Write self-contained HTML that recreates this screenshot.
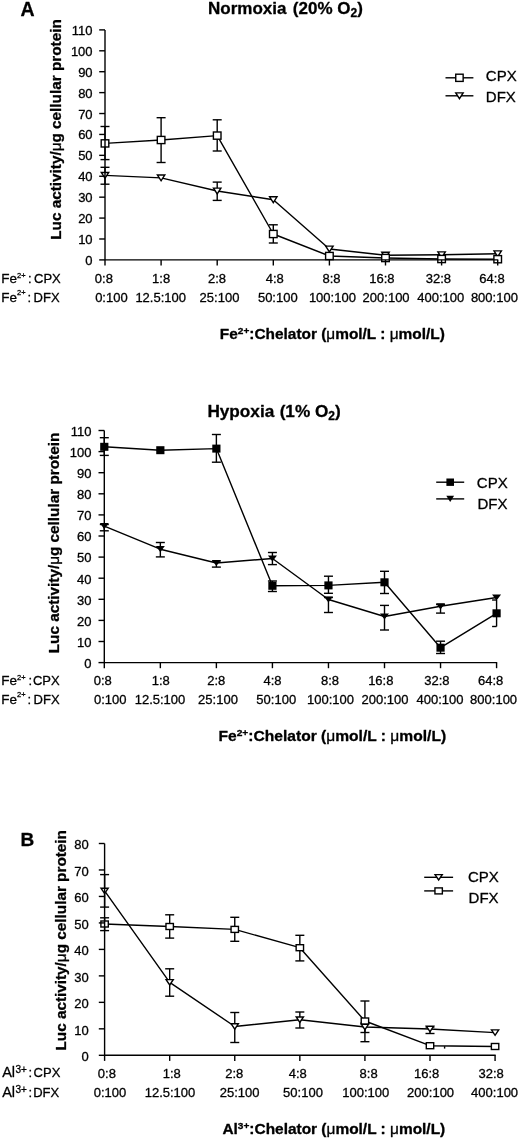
<!DOCTYPE html>
<html><head><meta charset="utf-8"><title>Figure</title>
<style>html,body{margin:0;padding:0;background:#fff;overflow:hidden;}svg{display:block;}</style>
</head><body>
<svg width="520" height="1139" viewBox="0 0 520 1139">
<rect width="520" height="1139" fill="#fff"/>
<g stroke="#000" stroke-linecap="butt" fill="none">
<line x1="105.00" y1="126.50" x2="105.00" y2="159.60" stroke-width="1.4"/>
<line x1="100.50" y1="126.50" x2="109.50" y2="126.50" stroke-width="1.4"/>
<line x1="100.50" y1="159.60" x2="109.50" y2="159.60" stroke-width="1.4"/>
<line x1="161.10" y1="117.70" x2="161.10" y2="162.50" stroke-width="1.4"/>
<line x1="156.60" y1="117.70" x2="165.60" y2="117.70" stroke-width="1.4"/>
<line x1="156.60" y1="162.50" x2="165.60" y2="162.50" stroke-width="1.4"/>
<line x1="217.20" y1="119.80" x2="217.20" y2="151.00" stroke-width="1.4"/>
<line x1="212.70" y1="119.80" x2="221.70" y2="119.80" stroke-width="1.4"/>
<line x1="212.70" y1="151.00" x2="221.70" y2="151.00" stroke-width="1.4"/>
<line x1="273.30" y1="224.80" x2="273.30" y2="243.00" stroke-width="1.4"/>
<line x1="268.80" y1="224.80" x2="277.80" y2="224.80" stroke-width="1.4"/>
<line x1="268.80" y1="243.00" x2="277.80" y2="243.00" stroke-width="1.4"/>
<line x1="105.00" y1="167.30" x2="105.00" y2="184.20" stroke-width="1.4"/>
<line x1="100.50" y1="167.30" x2="109.50" y2="167.30" stroke-width="1.4"/>
<line x1="100.50" y1="184.20" x2="109.50" y2="184.20" stroke-width="1.4"/>
<line x1="217.20" y1="182.10" x2="217.20" y2="200.40" stroke-width="1.4"/>
<line x1="212.70" y1="182.10" x2="221.70" y2="182.10" stroke-width="1.4"/>
<line x1="212.70" y1="200.40" x2="221.70" y2="200.40" stroke-width="1.4"/>
<polyline points="105.00,143.40 161.10,140.00 217.20,135.60 273.30,234.00 329.40,256.00 385.50,258.00 441.60,259.00 497.70,259.20" fill="none" stroke-width="1.4" stroke-linejoin="round"/>
<polyline points="105.00,175.40 161.10,177.90 217.20,191.00 273.30,199.70 329.40,249.00 385.50,255.20 441.60,254.80 497.70,253.80" fill="none" stroke-width="1.4" stroke-linejoin="round"/>
<polygon points="101.30,172.50 108.70,172.50 105.00,178.30" fill="#fff" stroke-width="1.4" stroke-linejoin="miter"/>
<polygon points="157.40,175.00 164.80,175.00 161.10,180.80" fill="#fff" stroke-width="1.4" stroke-linejoin="miter"/>
<polygon points="213.50,188.10 220.90,188.10 217.20,193.90" fill="#fff" stroke-width="1.4" stroke-linejoin="miter"/>
<polygon points="269.60,196.80 277.00,196.80 273.30,202.60" fill="#fff" stroke-width="1.4" stroke-linejoin="miter"/>
<polygon points="325.70,246.10 333.10,246.10 329.40,251.90" fill="#fff" stroke-width="1.4" stroke-linejoin="miter"/>
<polygon points="381.80,252.30 389.20,252.30 385.50,258.10" fill="#fff" stroke-width="1.4" stroke-linejoin="miter"/>
<polygon points="437.90,251.90 445.30,251.90 441.60,257.70" fill="#fff" stroke-width="1.4" stroke-linejoin="miter"/>
<polygon points="494.00,250.90 501.40,250.90 497.70,256.70" fill="#fff" stroke-width="1.4" stroke-linejoin="miter"/>
<rect x="101.20" y="139.80" width="7.60" height="7.20" fill="#fff" stroke-width="1.4"/>
<rect x="157.30" y="136.40" width="7.60" height="7.20" fill="#fff" stroke-width="1.4"/>
<rect x="213.40" y="132.00" width="7.60" height="7.20" fill="#fff" stroke-width="1.4"/>
<rect x="269.50" y="230.40" width="7.60" height="7.20" fill="#fff" stroke-width="1.4"/>
<rect x="325.60" y="252.40" width="7.60" height="7.20" fill="#fff" stroke-width="1.4"/>
<rect x="381.70" y="254.40" width="7.60" height="7.20" fill="#fff" stroke-width="1.4"/>
<rect x="437.80" y="255.40" width="7.60" height="7.20" fill="#fff" stroke-width="1.4"/>
<rect x="493.90" y="255.60" width="7.60" height="7.20" fill="#fff" stroke-width="1.4"/>
<line x1="105.00" y1="29.89" x2="105.00" y2="265.50" stroke-width="1.4"/>
<line x1="99.20" y1="259.90" x2="105.00" y2="259.90" stroke-width="1.4"/>
<line x1="99.20" y1="238.99" x2="105.00" y2="238.99" stroke-width="1.4"/>
<line x1="99.20" y1="218.08" x2="105.00" y2="218.08" stroke-width="1.4"/>
<line x1="99.20" y1="197.17" x2="105.00" y2="197.17" stroke-width="1.4"/>
<line x1="99.20" y1="176.26" x2="105.00" y2="176.26" stroke-width="1.4"/>
<line x1="99.20" y1="155.35" x2="105.00" y2="155.35" stroke-width="1.4"/>
<line x1="99.20" y1="134.44" x2="105.00" y2="134.44" stroke-width="1.4"/>
<line x1="99.20" y1="113.53" x2="105.00" y2="113.53" stroke-width="1.4"/>
<line x1="99.20" y1="92.62" x2="105.00" y2="92.62" stroke-width="1.4"/>
<line x1="99.20" y1="71.71" x2="105.00" y2="71.71" stroke-width="1.4"/>
<line x1="99.20" y1="50.80" x2="105.00" y2="50.80" stroke-width="1.4"/>
<line x1="99.20" y1="29.89" x2="105.00" y2="29.89" stroke-width="1.4"/>
<line x1="105.00" y1="259.90" x2="498.30" y2="259.90" stroke-width="1.4"/>
<line x1="161.10" y1="259.90" x2="161.10" y2="265.50" stroke-width="1.4"/>
<line x1="217.20" y1="259.90" x2="217.20" y2="265.50" stroke-width="1.4"/>
<line x1="273.30" y1="259.90" x2="273.30" y2="265.50" stroke-width="1.4"/>
<line x1="329.40" y1="259.90" x2="329.40" y2="265.50" stroke-width="1.4"/>
<line x1="385.50" y1="259.90" x2="385.50" y2="265.50" stroke-width="1.4"/>
<line x1="441.60" y1="259.90" x2="441.60" y2="265.50" stroke-width="1.4"/>
<line x1="497.70" y1="259.90" x2="497.70" y2="265.50" stroke-width="1.4"/>
<line x1="104.30" y1="437.70" x2="104.30" y2="455.40" stroke-width="1.4"/>
<line x1="99.80" y1="437.70" x2="108.80" y2="437.70" stroke-width="1.4"/>
<line x1="99.80" y1="455.40" x2="108.80" y2="455.40" stroke-width="1.4"/>
<line x1="216.38" y1="434.50" x2="216.38" y2="462.20" stroke-width="1.4"/>
<line x1="211.88" y1="434.50" x2="220.88" y2="434.50" stroke-width="1.4"/>
<line x1="211.88" y1="462.20" x2="220.88" y2="462.20" stroke-width="1.4"/>
<line x1="272.42" y1="581.00" x2="272.42" y2="591.50" stroke-width="1.4"/>
<line x1="267.92" y1="581.00" x2="276.92" y2="581.00" stroke-width="1.4"/>
<line x1="267.92" y1="591.50" x2="276.92" y2="591.50" stroke-width="1.4"/>
<line x1="328.46" y1="576.20" x2="328.46" y2="593.30" stroke-width="1.4"/>
<line x1="323.96" y1="576.20" x2="332.96" y2="576.20" stroke-width="1.4"/>
<line x1="323.96" y1="593.30" x2="332.96" y2="593.30" stroke-width="1.4"/>
<line x1="384.50" y1="571.30" x2="384.50" y2="593.50" stroke-width="1.4"/>
<line x1="380.00" y1="571.30" x2="389.00" y2="571.30" stroke-width="1.4"/>
<line x1="380.00" y1="593.50" x2="389.00" y2="593.50" stroke-width="1.4"/>
<line x1="440.54" y1="641.20" x2="440.54" y2="653.50" stroke-width="1.4"/>
<line x1="436.04" y1="641.20" x2="445.04" y2="641.20" stroke-width="1.4"/>
<line x1="436.04" y1="653.50" x2="445.04" y2="653.50" stroke-width="1.4"/>
<line x1="496.58" y1="600.00" x2="496.58" y2="626.50" stroke-width="1.4"/>
<line x1="492.08" y1="600.00" x2="496.58" y2="600.00" stroke-width="1.4"/>
<line x1="492.08" y1="626.50" x2="496.58" y2="626.50" stroke-width="1.4"/>
<line x1="104.30" y1="524.50" x2="104.30" y2="530.80" stroke-width="1.4"/>
<line x1="99.80" y1="524.50" x2="108.80" y2="524.50" stroke-width="1.4"/>
<line x1="99.80" y1="530.80" x2="108.80" y2="530.80" stroke-width="1.4"/>
<line x1="160.34" y1="542.50" x2="160.34" y2="556.90" stroke-width="1.4"/>
<line x1="155.84" y1="542.50" x2="164.84" y2="542.50" stroke-width="1.4"/>
<line x1="155.84" y1="556.90" x2="164.84" y2="556.90" stroke-width="1.4"/>
<line x1="216.38" y1="561.00" x2="216.38" y2="567.10" stroke-width="1.4"/>
<line x1="211.88" y1="561.00" x2="220.88" y2="561.00" stroke-width="1.4"/>
<line x1="211.88" y1="567.10" x2="220.88" y2="567.10" stroke-width="1.4"/>
<line x1="272.42" y1="552.50" x2="272.42" y2="564.60" stroke-width="1.4"/>
<line x1="267.92" y1="552.50" x2="276.92" y2="552.50" stroke-width="1.4"/>
<line x1="267.92" y1="564.60" x2="276.92" y2="564.60" stroke-width="1.4"/>
<line x1="328.46" y1="597.50" x2="328.46" y2="612.50" stroke-width="1.4"/>
<line x1="323.96" y1="597.50" x2="332.96" y2="597.50" stroke-width="1.4"/>
<line x1="323.96" y1="612.50" x2="332.96" y2="612.50" stroke-width="1.4"/>
<line x1="384.50" y1="605.40" x2="384.50" y2="630.00" stroke-width="1.4"/>
<line x1="380.00" y1="605.40" x2="389.00" y2="605.40" stroke-width="1.4"/>
<line x1="380.00" y1="630.00" x2="389.00" y2="630.00" stroke-width="1.4"/>
<line x1="440.54" y1="604.50" x2="440.54" y2="613.10" stroke-width="1.4"/>
<line x1="436.04" y1="604.50" x2="445.04" y2="604.50" stroke-width="1.4"/>
<line x1="436.04" y1="613.10" x2="445.04" y2="613.10" stroke-width="1.4"/>
<polyline points="104.30,446.80 160.34,450.20 216.38,448.60 272.42,585.80 328.46,585.40 384.50,582.30 440.54,647.70 496.58,613.30" fill="none" stroke-width="1.4" stroke-linejoin="round"/>
<polyline points="104.30,526.20 160.34,549.20 216.38,563.00 272.42,558.50 328.46,599.50 384.50,616.50 440.54,606.30 496.58,597.50" fill="none" stroke-width="1.4" stroke-linejoin="round"/>
<rect x="100.20" y="442.80" width="8.20" height="8.00" fill="#000" stroke="none"/>
<rect x="156.24" y="446.20" width="8.20" height="8.00" fill="#000" stroke="none"/>
<rect x="212.28" y="444.60" width="8.20" height="8.00" fill="#000" stroke="none"/>
<rect x="268.32" y="581.80" width="8.20" height="8.00" fill="#000" stroke="none"/>
<rect x="324.36" y="581.40" width="8.20" height="8.00" fill="#000" stroke="none"/>
<rect x="380.40" y="578.30" width="8.20" height="8.00" fill="#000" stroke="none"/>
<rect x="436.44" y="643.70" width="8.20" height="8.00" fill="#000" stroke="none"/>
<rect x="492.48" y="609.30" width="8.20" height="8.00" fill="#000" stroke="none"/>
<polygon points="99.80,523.10 108.80,523.10 104.30,529.30" fill="#000" stroke="none"/>
<polygon points="155.84,546.10 164.84,546.10 160.34,552.30" fill="#000" stroke="none"/>
<polygon points="211.88,559.90 220.88,559.90 216.38,566.10" fill="#000" stroke="none"/>
<polygon points="267.92,555.40 276.92,555.40 272.42,561.60" fill="#000" stroke="none"/>
<polygon points="323.96,596.40 332.96,596.40 328.46,602.60" fill="#000" stroke="none"/>
<polygon points="380.00,613.40 389.00,613.40 384.50,619.60" fill="#000" stroke="none"/>
<polygon points="436.04,603.20 445.04,603.20 440.54,609.40" fill="#000" stroke="none"/>
<polygon points="492.08,594.40 501.08,594.40 496.58,600.60" fill="#000" stroke="none"/>
<line x1="104.30" y1="430.50" x2="104.30" y2="668.20" stroke-width="1.4"/>
<line x1="98.50" y1="662.60" x2="104.30" y2="662.60" stroke-width="1.4"/>
<line x1="98.50" y1="641.50" x2="104.30" y2="641.50" stroke-width="1.4"/>
<line x1="98.50" y1="620.40" x2="104.30" y2="620.40" stroke-width="1.4"/>
<line x1="98.50" y1="599.30" x2="104.30" y2="599.30" stroke-width="1.4"/>
<line x1="98.50" y1="578.20" x2="104.30" y2="578.20" stroke-width="1.4"/>
<line x1="98.50" y1="557.10" x2="104.30" y2="557.10" stroke-width="1.4"/>
<line x1="98.50" y1="536.00" x2="104.30" y2="536.00" stroke-width="1.4"/>
<line x1="98.50" y1="514.90" x2="104.30" y2="514.90" stroke-width="1.4"/>
<line x1="98.50" y1="493.80" x2="104.30" y2="493.80" stroke-width="1.4"/>
<line x1="98.50" y1="472.70" x2="104.30" y2="472.70" stroke-width="1.4"/>
<line x1="98.50" y1="451.60" x2="104.30" y2="451.60" stroke-width="1.4"/>
<line x1="98.50" y1="430.50" x2="104.30" y2="430.50" stroke-width="1.4"/>
<line x1="104.30" y1="662.60" x2="497.18" y2="662.60" stroke-width="1.4"/>
<line x1="160.34" y1="662.60" x2="160.34" y2="668.20" stroke-width="1.4"/>
<line x1="216.38" y1="662.60" x2="216.38" y2="668.20" stroke-width="1.4"/>
<line x1="272.42" y1="662.60" x2="272.42" y2="668.20" stroke-width="1.4"/>
<line x1="328.46" y1="662.60" x2="328.46" y2="668.20" stroke-width="1.4"/>
<line x1="384.50" y1="662.60" x2="384.50" y2="668.20" stroke-width="1.4"/>
<line x1="440.54" y1="662.60" x2="440.54" y2="668.20" stroke-width="1.4"/>
<line x1="496.58" y1="662.60" x2="496.58" y2="668.20" stroke-width="1.4"/>
<line x1="104.60" y1="874.60" x2="104.60" y2="907.10" stroke-width="1.4"/>
<line x1="100.10" y1="874.60" x2="109.10" y2="874.60" stroke-width="1.4"/>
<line x1="100.10" y1="907.10" x2="109.10" y2="907.10" stroke-width="1.4"/>
<line x1="169.68" y1="968.80" x2="169.68" y2="996.20" stroke-width="1.4"/>
<line x1="165.18" y1="968.80" x2="174.18" y2="968.80" stroke-width="1.4"/>
<line x1="165.18" y1="996.20" x2="174.18" y2="996.20" stroke-width="1.4"/>
<line x1="234.76" y1="1012.50" x2="234.76" y2="1042.50" stroke-width="1.4"/>
<line x1="230.26" y1="1012.50" x2="239.26" y2="1012.50" stroke-width="1.4"/>
<line x1="230.26" y1="1042.50" x2="239.26" y2="1042.50" stroke-width="1.4"/>
<line x1="299.84" y1="1012.00" x2="299.84" y2="1028.00" stroke-width="1.4"/>
<line x1="295.34" y1="1012.00" x2="304.34" y2="1012.00" stroke-width="1.4"/>
<line x1="295.34" y1="1028.00" x2="304.34" y2="1028.00" stroke-width="1.4"/>
<line x1="364.92" y1="1023.00" x2="364.92" y2="1032.50" stroke-width="1.4"/>
<line x1="360.42" y1="1023.00" x2="369.42" y2="1023.00" stroke-width="1.4"/>
<line x1="360.42" y1="1032.50" x2="369.42" y2="1032.50" stroke-width="1.4"/>
<line x1="430.00" y1="1027.00" x2="430.00" y2="1033.50" stroke-width="1.4"/>
<line x1="425.50" y1="1027.00" x2="434.50" y2="1027.00" stroke-width="1.4"/>
<line x1="425.50" y1="1033.50" x2="434.50" y2="1033.50" stroke-width="1.4"/>
<line x1="104.60" y1="917.80" x2="104.60" y2="930.60" stroke-width="1.4"/>
<line x1="100.10" y1="917.80" x2="109.10" y2="917.80" stroke-width="1.4"/>
<line x1="100.10" y1="930.60" x2="109.10" y2="930.60" stroke-width="1.4"/>
<line x1="169.68" y1="914.80" x2="169.68" y2="938.10" stroke-width="1.4"/>
<line x1="165.18" y1="914.80" x2="174.18" y2="914.80" stroke-width="1.4"/>
<line x1="165.18" y1="938.10" x2="174.18" y2="938.10" stroke-width="1.4"/>
<line x1="234.76" y1="917.30" x2="234.76" y2="941.30" stroke-width="1.4"/>
<line x1="230.26" y1="917.30" x2="239.26" y2="917.30" stroke-width="1.4"/>
<line x1="230.26" y1="941.30" x2="239.26" y2="941.30" stroke-width="1.4"/>
<line x1="299.84" y1="935.30" x2="299.84" y2="960.90" stroke-width="1.4"/>
<line x1="295.34" y1="935.30" x2="304.34" y2="935.30" stroke-width="1.4"/>
<line x1="295.34" y1="960.90" x2="304.34" y2="960.90" stroke-width="1.4"/>
<line x1="364.92" y1="1001.00" x2="364.92" y2="1041.70" stroke-width="1.4"/>
<line x1="360.42" y1="1001.00" x2="369.42" y2="1001.00" stroke-width="1.4"/>
<line x1="360.42" y1="1041.70" x2="369.42" y2="1041.70" stroke-width="1.4"/>
<polyline points="104.60,890.90 169.68,982.30 234.76,1026.50 299.84,1019.70 364.92,1027.00 430.00,1029.00 495.08,1032.60" fill="none" stroke-width="1.4" stroke-linejoin="round"/>
<polyline points="104.60,924.00 169.68,926.50 234.76,929.40 299.84,947.70 364.92,1021.00 430.00,1045.70 495.08,1046.50" fill="none" stroke-width="1.4" stroke-linejoin="round"/>
<polygon points="101.00,888.20 108.20,888.20 104.60,893.60" fill="#fff" stroke-width="1.4" stroke-linejoin="miter"/>
<polygon points="166.08,979.60 173.28,979.60 169.68,985.00" fill="#fff" stroke-width="1.4" stroke-linejoin="miter"/>
<polygon points="231.16,1023.80 238.36,1023.80 234.76,1029.20" fill="#fff" stroke-width="1.4" stroke-linejoin="miter"/>
<polygon points="296.24,1017.00 303.44,1017.00 299.84,1022.40" fill="#fff" stroke-width="1.4" stroke-linejoin="miter"/>
<polygon points="361.32,1024.30 368.52,1024.30 364.92,1029.70" fill="#fff" stroke-width="1.4" stroke-linejoin="miter"/>
<polygon points="426.40,1026.30 433.60,1026.30 430.00,1031.70" fill="#fff" stroke-width="1.4" stroke-linejoin="miter"/>
<polygon points="491.48,1029.90 498.68,1029.90 495.08,1035.30" fill="#fff" stroke-width="1.4" stroke-linejoin="miter"/>
<rect x="100.90" y="921.00" width="7.40" height="6.00" fill="#fff" stroke-width="1.4"/>
<rect x="165.98" y="923.50" width="7.40" height="6.00" fill="#fff" stroke-width="1.4"/>
<rect x="231.06" y="926.40" width="7.40" height="6.00" fill="#fff" stroke-width="1.4"/>
<rect x="296.14" y="944.70" width="7.40" height="6.00" fill="#fff" stroke-width="1.4"/>
<rect x="361.22" y="1018.00" width="7.40" height="6.00" fill="#fff" stroke-width="1.4"/>
<rect x="426.30" y="1042.70" width="7.40" height="6.00" fill="#fff" stroke-width="1.4"/>
<rect x="491.38" y="1043.50" width="7.40" height="6.00" fill="#fff" stroke-width="1.4"/>
<line x1="104.60" y1="843.50" x2="104.60" y2="1060.90" stroke-width="1.4"/>
<line x1="98.80" y1="1055.30" x2="104.60" y2="1055.30" stroke-width="1.4"/>
<line x1="98.80" y1="1028.83" x2="104.60" y2="1028.83" stroke-width="1.4"/>
<line x1="98.80" y1="1002.35" x2="104.60" y2="1002.35" stroke-width="1.4"/>
<line x1="98.80" y1="975.88" x2="104.60" y2="975.88" stroke-width="1.4"/>
<line x1="98.80" y1="949.40" x2="104.60" y2="949.40" stroke-width="1.4"/>
<line x1="98.80" y1="922.92" x2="104.60" y2="922.92" stroke-width="1.4"/>
<line x1="98.80" y1="896.45" x2="104.60" y2="896.45" stroke-width="1.4"/>
<line x1="98.80" y1="869.97" x2="104.60" y2="869.97" stroke-width="1.4"/>
<line x1="98.80" y1="843.50" x2="104.60" y2="843.50" stroke-width="1.4"/>
<line x1="104.60" y1="1055.30" x2="495.68" y2="1055.30" stroke-width="1.4"/>
<line x1="169.68" y1="1055.30" x2="169.68" y2="1060.90" stroke-width="1.4"/>
<line x1="234.76" y1="1055.30" x2="234.76" y2="1060.90" stroke-width="1.4"/>
<line x1="299.84" y1="1055.30" x2="299.84" y2="1060.90" stroke-width="1.4"/>
<line x1="364.92" y1="1055.30" x2="364.92" y2="1060.90" stroke-width="1.4"/>
<line x1="430.00" y1="1055.30" x2="430.00" y2="1060.90" stroke-width="1.4"/>
<line x1="495.08" y1="1055.30" x2="495.08" y2="1060.90" stroke-width="1.4"/>
<line x1="444.60" y1="1046.20" x2="444.60" y2="1048.60" stroke-width="1.4"/>
<line x1="445.50" y1="77.80" x2="473.40" y2="77.80" stroke-width="1.4"/>
<rect x="455.75" y="74.20" width="7.40" height="7.20" fill="#fff" stroke-width="1.4"/>
<line x1="445.50" y1="95.80" x2="473.40" y2="95.80" stroke-width="1.4"/>
<polygon points="455.75,92.90 463.15,92.90 459.45,98.70" fill="#fff" stroke-width="1.4" stroke-linejoin="miter"/>
<line x1="436.20" y1="482.20" x2="464.20" y2="482.20" stroke-width="1.4"/>
<rect x="446.40" y="478.50" width="7.60" height="7.40" fill="#000" stroke="none"/>
<line x1="436.20" y1="498.90" x2="464.20" y2="498.90" stroke-width="1.4"/>
<polygon points="446.30,495.80 454.10,495.80 450.20,502.00" fill="#000" stroke="none"/>
<line x1="424.20" y1="877.30" x2="453.10" y2="877.30" stroke-width="1.4"/>
<polygon points="435.05,874.60 442.25,874.60 438.65,880.00" fill="#fff" stroke-width="1.4" stroke-linejoin="miter"/>
<line x1="424.20" y1="890.90" x2="453.10" y2="890.90" stroke-width="1.4"/>
<rect x="434.95" y="887.90" width="7.40" height="6.00" fill="#fff" stroke-width="1.4"/>
</g>
<g font-family="'Liberation Sans', Arial, Helvetica, sans-serif" fill="#000" stroke="#000" stroke-width="0.3" stroke-linejoin="round">
<text x="92.60" y="264.90" font-size="13" font-weight="normal" text-anchor="end" >0</text>
<text x="92.60" y="243.99" font-size="13" font-weight="normal" text-anchor="end" >10</text>
<text x="92.60" y="223.08" font-size="13" font-weight="normal" text-anchor="end" >20</text>
<text x="92.60" y="202.17" font-size="13" font-weight="normal" text-anchor="end" >30</text>
<text x="92.60" y="181.26" font-size="13" font-weight="normal" text-anchor="end" >40</text>
<text x="92.60" y="160.35" font-size="13" font-weight="normal" text-anchor="end" >50</text>
<text x="92.60" y="139.44" font-size="13" font-weight="normal" text-anchor="end" >60</text>
<text x="92.60" y="118.53" font-size="13" font-weight="normal" text-anchor="end" >70</text>
<text x="92.60" y="97.62" font-size="13" font-weight="normal" text-anchor="end" >80</text>
<text x="92.60" y="76.71" font-size="13" font-weight="normal" text-anchor="end" >90</text>
<text x="92.60" y="55.80" font-size="13" font-weight="normal" text-anchor="end" >100</text>
<text x="92.60" y="34.89" font-size="13" font-weight="normal" text-anchor="end" >110</text>
<text x="91.40" y="667.90" font-size="13" font-weight="normal" text-anchor="end" >0</text>
<text x="91.40" y="646.80" font-size="13" font-weight="normal" text-anchor="end" >10</text>
<text x="91.40" y="625.70" font-size="13" font-weight="normal" text-anchor="end" >20</text>
<text x="91.40" y="604.60" font-size="13" font-weight="normal" text-anchor="end" >30</text>
<text x="91.40" y="583.50" font-size="13" font-weight="normal" text-anchor="end" >40</text>
<text x="91.40" y="562.40" font-size="13" font-weight="normal" text-anchor="end" >50</text>
<text x="91.40" y="541.30" font-size="13" font-weight="normal" text-anchor="end" >60</text>
<text x="91.40" y="520.20" font-size="13" font-weight="normal" text-anchor="end" >70</text>
<text x="91.40" y="499.10" font-size="13" font-weight="normal" text-anchor="end" >80</text>
<text x="91.40" y="478.00" font-size="13" font-weight="normal" text-anchor="end" >90</text>
<text x="91.40" y="456.90" font-size="13" font-weight="normal" text-anchor="end" >100</text>
<text x="91.40" y="435.80" font-size="13" font-weight="normal" text-anchor="end" >110</text>
<text x="88.80" y="1061.00" font-size="13" font-weight="normal" text-anchor="end" >0</text>
<text x="88.80" y="1034.53" font-size="13" font-weight="normal" text-anchor="end" >10</text>
<text x="88.80" y="1008.05" font-size="13" font-weight="normal" text-anchor="end" >20</text>
<text x="88.80" y="981.58" font-size="13" font-weight="normal" text-anchor="end" >30</text>
<text x="88.80" y="955.10" font-size="13" font-weight="normal" text-anchor="end" >40</text>
<text x="88.80" y="928.62" font-size="13" font-weight="normal" text-anchor="end" >50</text>
<text x="88.80" y="902.15" font-size="13" font-weight="normal" text-anchor="end" >60</text>
<text x="88.80" y="875.67" font-size="13" font-weight="normal" text-anchor="end" >70</text>
<text x="88.80" y="849.20" font-size="13" font-weight="normal" text-anchor="end" >80</text>
<text x="20.40" y="15.80" font-size="19.5" font-weight="bold" text-anchor="start" >A</text>
<text x="208.10" y="13.80" font-size="17.0" font-weight="bold" text-anchor="start" >Normoxia <tspan dx="1.6">(20% O</tspan><tspan font-size="12" dy="3.6">2</tspan><tspan dy="-3.6">)</tspan></text>
<text x="207.40" y="416.50" font-size="17.2" font-weight="bold" text-anchor="start" >Hypoxia <tspan dx="0.6">(1% O</tspan><tspan font-size="12" dy="3.6">2</tspan><tspan dy="-3.6">)</tspan></text>
<text x="20.60" y="845.80" font-size="19" font-weight="bold" text-anchor="start" >B</text>
<text transform="translate(60.90,129.50) rotate(-90)" font-size="15.3" font-weight="bold" text-anchor="middle">Luc activity/<tspan font-weight="normal">μ</tspan>g cellular protein</text>
<text transform="translate(59.40,543.00) rotate(-90)" font-size="15.3" font-weight="bold" text-anchor="middle">Luc activity/<tspan font-weight="normal">μ</tspan>g cellular protein</text>
<text transform="translate(66.30,940.30) rotate(-90)" font-size="15.3" font-weight="bold" text-anchor="middle">Luc activity/<tspan font-weight="normal">μ</tspan>g cellular protein</text>
<text x="485.80" y="81.40" font-size="15" font-weight="normal" text-anchor="start" >CPX</text>
<text x="485.80" y="102.20" font-size="15" font-weight="normal" text-anchor="start" >DFX</text>
<text x="476.80" y="487.80" font-size="15" font-weight="normal" text-anchor="start" >CPX</text>
<text x="477.40" y="508.50" font-size="15" font-weight="normal" text-anchor="start" >DFX</text>
<text x="467.90" y="881.80" font-size="15" font-weight="normal" text-anchor="start" >CPX</text>
<text x="468.60" y="902.50" font-size="15" font-weight="normal" text-anchor="start" >DFX</text>
<text x="103.90" y="282.90" font-size="13" font-weight="normal" text-anchor="middle" >0:8</text>
<text x="111.40" y="302.00" font-size="13" font-weight="normal" text-anchor="middle" >0:100</text>
<text x="161.10" y="282.90" font-size="13" font-weight="normal" text-anchor="middle" >1:8</text>
<text x="160.70" y="302.00" font-size="13" font-weight="normal" text-anchor="middle" >12.5:100</text>
<text x="217.00" y="282.90" font-size="13" font-weight="normal" text-anchor="middle" >2:8</text>
<text x="219.50" y="302.00" font-size="13" font-weight="normal" text-anchor="middle" >25:100</text>
<text x="274.80" y="282.90" font-size="13" font-weight="normal" text-anchor="middle" >4:8</text>
<text x="277.80" y="302.00" font-size="13" font-weight="normal" text-anchor="middle" >50:100</text>
<text x="331.50" y="282.90" font-size="13" font-weight="normal" text-anchor="middle" >8:8</text>
<text x="332.40" y="302.00" font-size="13" font-weight="normal" text-anchor="middle" >100:100</text>
<text x="381.90" y="282.90" font-size="13" font-weight="normal" text-anchor="middle" >16:8</text>
<text x="386.10" y="302.00" font-size="13" font-weight="normal" text-anchor="middle" >200:100</text>
<text x="438.40" y="282.90" font-size="13" font-weight="normal" text-anchor="middle" >32:8</text>
<text x="440.80" y="302.00" font-size="13" font-weight="normal" text-anchor="middle" >400:100</text>
<text x="492.00" y="282.90" font-size="13" font-weight="normal" text-anchor="middle" >64:8</text>
<text x="494.40" y="302.00" font-size="13" font-weight="normal" text-anchor="middle" >800:100</text>
<text x="1.20" y="282.60" font-size="13.5" font-weight="normal" text-anchor="start" >Fe</text>
<text x="17.10" y="278.40" font-size="7.5" font-weight="normal" text-anchor="start" >2+</text>
<text x="28.00" y="282.60" font-size="13" font-weight="normal" text-anchor="start" >:</text>
<text x="34.00" y="282.60" font-size="13" font-weight="normal" text-anchor="start" >CPX</text>
<text x="1.20" y="301.50" font-size="13.5" font-weight="normal" text-anchor="start" >Fe</text>
<text x="17.10" y="294.50" font-size="7.5" font-weight="normal" text-anchor="start" >2+</text>
<text x="27.60" y="301.50" font-size="13" font-weight="normal" text-anchor="start" >:</text>
<text x="33.60" y="301.50" font-size="13" font-weight="normal" text-anchor="start" >DFX</text>
<text x="102.75" y="685.00" font-size="13" font-weight="normal" text-anchor="middle" >0:8</text>
<text x="110.30" y="704.20" font-size="13" font-weight="normal" text-anchor="middle" >0:100</text>
<text x="160.80" y="685.00" font-size="13" font-weight="normal" text-anchor="middle" >1:8</text>
<text x="160.00" y="704.20" font-size="13" font-weight="normal" text-anchor="middle" >12.5:100</text>
<text x="216.20" y="685.00" font-size="13" font-weight="normal" text-anchor="middle" >2:8</text>
<text x="218.00" y="704.20" font-size="13" font-weight="normal" text-anchor="middle" >25:100</text>
<text x="272.50" y="685.00" font-size="13" font-weight="normal" text-anchor="middle" >4:8</text>
<text x="276.25" y="704.20" font-size="13" font-weight="normal" text-anchor="middle" >50:100</text>
<text x="330.00" y="685.00" font-size="13" font-weight="normal" text-anchor="middle" >8:8</text>
<text x="330.50" y="704.20" font-size="13" font-weight="normal" text-anchor="middle" >100:100</text>
<text x="380.80" y="685.00" font-size="13" font-weight="normal" text-anchor="middle" >16:8</text>
<text x="385.00" y="704.20" font-size="13" font-weight="normal" text-anchor="middle" >200:100</text>
<text x="436.90" y="685.00" font-size="13" font-weight="normal" text-anchor="middle" >32:8</text>
<text x="440.00" y="704.20" font-size="13" font-weight="normal" text-anchor="middle" >400:100</text>
<text x="490.70" y="685.00" font-size="13" font-weight="normal" text-anchor="middle" >64:8</text>
<text x="493.60" y="704.20" font-size="13" font-weight="normal" text-anchor="middle" >800:100</text>
<text x="1.20" y="684.50" font-size="13.5" font-weight="normal" text-anchor="start" >Fe</text>
<text x="17.10" y="680.30" font-size="7.5" font-weight="normal" text-anchor="start" >2+</text>
<text x="28.40" y="684.50" font-size="13" font-weight="normal" text-anchor="start" >:</text>
<text x="32.90" y="684.50" font-size="13" font-weight="normal" text-anchor="start" >CPX</text>
<text x="1.20" y="703.50" font-size="13.5" font-weight="normal" text-anchor="start" >Fe</text>
<text x="17.10" y="696.50" font-size="7.5" font-weight="normal" text-anchor="start" >2+</text>
<text x="27.60" y="703.50" font-size="13" font-weight="normal" text-anchor="start" >:</text>
<text x="33.60" y="703.50" font-size="13" font-weight="normal" text-anchor="start" >DFX</text>
<text x="106.90" y="1077.60" font-size="13" font-weight="normal" text-anchor="middle" >0:8</text>
<text x="110.00" y="1097.20" font-size="13" font-weight="normal" text-anchor="middle" >0:100</text>
<text x="171.70" y="1077.60" font-size="13" font-weight="normal" text-anchor="middle" >1:8</text>
<text x="170.00" y="1097.20" font-size="13" font-weight="normal" text-anchor="middle" >12.5:100</text>
<text x="234.30" y="1077.60" font-size="13" font-weight="normal" text-anchor="middle" >2:8</text>
<text x="239.60" y="1097.20" font-size="13" font-weight="normal" text-anchor="middle" >25:100</text>
<text x="297.70" y="1077.60" font-size="13" font-weight="normal" text-anchor="middle" >4:8</text>
<text x="303.00" y="1097.20" font-size="13" font-weight="normal" text-anchor="middle" >50:100</text>
<text x="368.60" y="1077.60" font-size="13" font-weight="normal" text-anchor="middle" >8:8</text>
<text x="365.80" y="1097.20" font-size="13" font-weight="normal" text-anchor="middle" >100:100</text>
<text x="426.70" y="1077.60" font-size="13" font-weight="normal" text-anchor="middle" >16:8</text>
<text x="430.60" y="1097.20" font-size="13" font-weight="normal" text-anchor="middle" >200:100</text>
<text x="491.10" y="1077.60" font-size="13" font-weight="normal" text-anchor="middle" >32:8</text>
<text x="494.60" y="1097.20" font-size="13" font-weight="normal" text-anchor="middle" >400:100</text>
<text x="2.20" y="1077.00" font-size="14.5" font-weight="normal" text-anchor="start" >Al</text>
<text x="15.40" y="1072.80" font-size="10" font-weight="normal" text-anchor="start" >3+</text>
<text x="28.40" y="1077.00" font-size="13" font-weight="normal" text-anchor="start" >:</text>
<text x="33.60" y="1077.00" font-size="13" font-weight="normal" text-anchor="start" >CPX</text>
<text x="2.20" y="1096.80" font-size="14.5" font-weight="normal" text-anchor="start" >Al</text>
<text x="15.40" y="1092.60" font-size="10" font-weight="normal" text-anchor="start" >3+</text>
<text x="28.40" y="1096.80" font-size="13" font-weight="normal" text-anchor="start" >:</text>
<text x="33.20" y="1096.80" font-size="13" font-weight="normal" text-anchor="start" >DFX</text>
<text x="219.80" y="338.50" font-size="14.5" font-weight="bold" text-anchor="start" textLength="225.0" lengthAdjust="spacingAndGlyphs">Fe<tspan font-size="9.5" dy="-4.4">2+</tspan><tspan dy="4.4">:Chelator (</tspan><tspan font-weight="normal">μ</tspan>mol/L : <tspan font-weight="normal">μ</tspan>mol/L)</text>
<text x="218.50" y="740.60" font-size="14.5" font-weight="bold" text-anchor="start" textLength="227.6" lengthAdjust="spacingAndGlyphs">Fe<tspan font-size="9.5" dy="-4.4">2+</tspan><tspan dy="4.4">:Chelator (</tspan><tspan font-weight="normal">μ</tspan>mol/L : <tspan font-weight="normal">μ</tspan>mol/L)</text>
<text x="222.40" y="1133.60" font-size="14.5" font-weight="bold" text-anchor="start" textLength="222.8" lengthAdjust="spacingAndGlyphs">Al<tspan font-size="9.5" dy="-4.4">3+</tspan><tspan dy="4.4">:Chelator (</tspan><tspan font-weight="normal">μ</tspan>mol/L : <tspan font-weight="normal">μ</tspan>mol/L)</text>
</g>
</svg>
</body></html>
